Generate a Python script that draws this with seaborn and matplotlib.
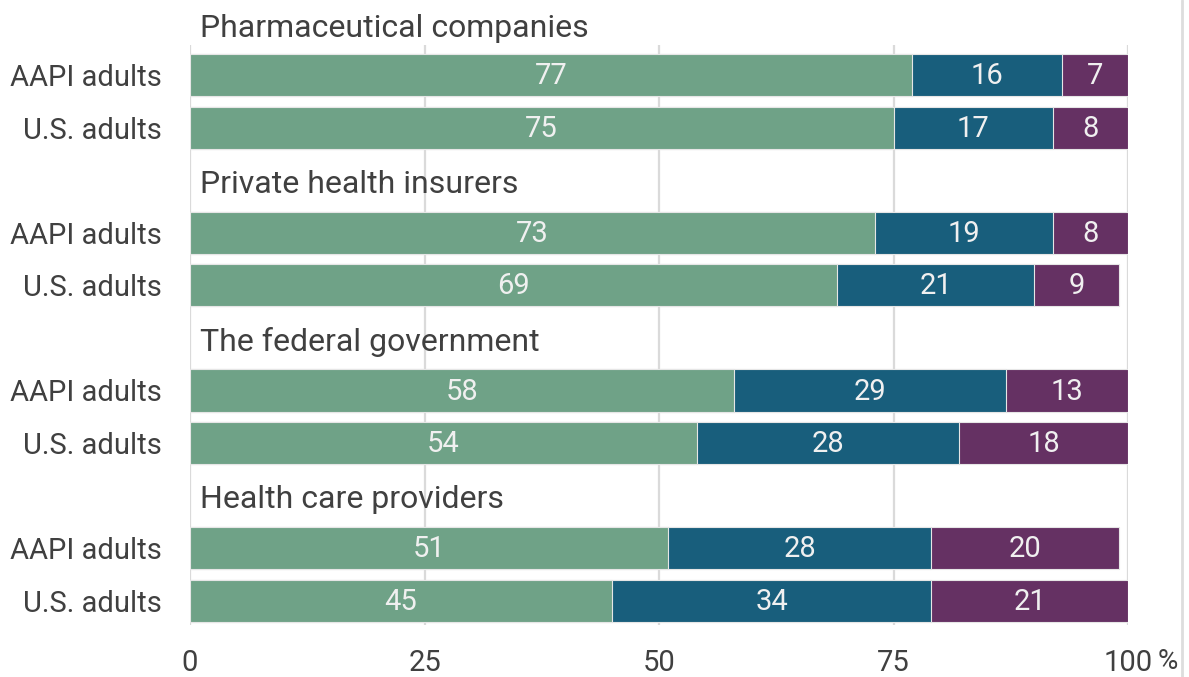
import matplotlib
matplotlib.use("Agg")
import matplotlib.pyplot as plt
from matplotlib.lines import Line2D
import numpy as np
import pandas as pd
import seaborn as sns

# Survey data: share of respondents per answer, by institution and group
institutions = ["Pharmaceutical companies", "Private health insurers",
                "The federal government", "Health care providers"]
groups = ["AAPI adults", "U.S. adults"]
first_vals = [77, 75, 73, 69, 58, 54, 51, 45]
second_vals = [16, 17, 19, 21, 29, 28, 28, 34]
third_vals = [7, 8, 8, 9, 13, 18, 20, 21]
x_ticks = [0, 25, 50, 75, 100]

colors = ["#6fa287", "#185e7c", "#653163"]
text_dark = "#404040"
label_light = "#f0f0f0"
grid_col = "#dadada"

sns.set_theme(style="white")
plt.rcParams["font.family"] = ["Roboto", "DejaVu Sans"]

# Row positions: each institution takes a title slot followed by two bars
positions = []
for g in range(len(institutions)):
    positions += [g * 3 + 1, g * 3 + 2]

first = np.array(first_vals)
second = np.array(second_vals)
third = np.array(third_vals)
df = pd.DataFrame({
    "pos": positions,
    "c1": first,
    "c2": first + second,
    "c3": first + second + third,
})

fig = plt.figure(figsize=(11.89, 6.77), dpi=100)
ax = fig.add_axes([190 / 1189, 1 - 625 / 677, (1128 - 190) / 1189, (625 - 45) / 677])

# Light vertical grid behind the bars
for t in x_ticks:
    ax.axvline(t, color=grid_col, lw=1.6, zorder=0)

# Stacked bars drawn as overlapping cumulative totals
for col, c in zip(["c3", "c2", "c1"], colors[::-1]):
    sns.barplot(data=df, x=col, y="pos", orient="h", native_scale=True,
                color=c, saturation=1, width=0.8, edgecolor="#e6e6e6",
                linewidth=0.8, ax=ax, zorder=2)

# Segment value labels
for i, y in enumerate(positions):
    starts = [0, first[i], first[i] + second[i]]
    vals = [first[i], second[i], third[i]]
    for s, v in zip(starts, vals):
        ax.text(s + v / 2, y + 0.02, f"{v}", ha="center", va="center",
                fontsize=21, color=label_light, zorder=5)

# Institution titles above each pair of bars
title_offsets = [0.12, 0.08, 0.08, 0.08]
for g, name in enumerate(institutions):
    ax.text(1.07, g * 3 + title_offsets[g], name, ha="left", va="center",
            fontsize=23, color=text_dark, zorder=5, clip_on=False)

ax.set_xlim(0, 100)
ax.set_ylim(11.46, 0.43)
ax.set_yticks(positions)
ax.set_yticklabels(groups * len(institutions))
ax.set_xticks(x_ticks)
ax.set_xticklabels([str(t) for t in x_ticks])
ax.tick_params(axis="y", length=0, pad=20, labelsize=21, labelcolor=text_dark)
ax.tick_params(axis="x", length=0, pad=17, labelsize=21, labelcolor=text_dark)
ax.set_xlabel("")
ax.set_ylabel("")
for sp in ax.spines.values():
    sp.set_visible(False)

# Percent sign trailing the last tick label
ax.annotate("%", xy=(100, 0), xycoords=("data", "axes fraction"),
            xytext=(21, -26.5), textcoords="offset points", ha="left",
            va="center", fontsize=20, color=text_dark, annotation_clip=False)

# Thin border on the right edge of the figure
fig.add_artist(Line2D([1182 / 1189, 1182 / 1189], [0, 1], color="#dddddd",
                      lw=2, transform=fig.transFigure))

fig.savefig("out.png", dpi=100)
